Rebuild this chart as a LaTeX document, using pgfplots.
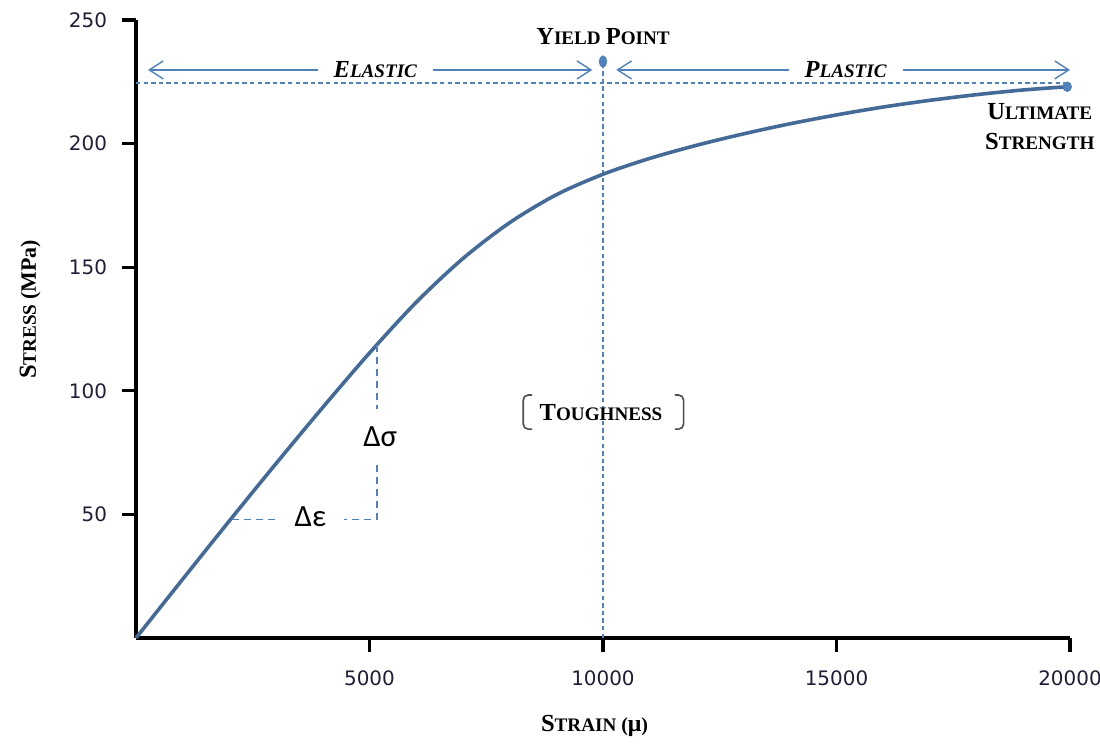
\documentclass[border=0pt]{standalone}
\usepackage{fontspec}
\setmainfont{Liberation Serif}
\newfontfamily\tickfont{DejaVu Sans}
\newfontfamily\calfont{Carlito}
\usepackage{pgfplots}
\pgfplotsset{compat=1.18}
\usetikzlibrary{arrows.meta}
\definecolor{curveblue}{RGB}{68,106,152}
\definecolor{lineblue}{RGB}{79,129,189}
\definecolor{tickcol}{RGB}{30,30,55}
\newcommand{\sct}[2]{{\fontsize{12.3}{14}\selectfont #1}{\fontsize{9.6}{11}\selectfont #2}}
\begin{document}
\begin{tikzpicture}
\begin{axis}[
  scale only axis, width=467bp, height=309bp,
  xmin=0, xmax=20000, ymin=0, ymax=250,
  axis lines=left,
  axis line style={-, line width=2bp, black},
  xtick={5000,10000,15000,20000},
  ytick={50,100,150,200,250},
  scaled x ticks=false,
  tick align=outside,
  major tick length=7bp,
  tick style={line width=1.6bp, black},
  /pgf/number format/assume math mode=true,
  xticklabel style={/pgf/number format/fixed, /pgf/number format/set thousands separator={}, yshift=-6bp},
  ticklabel style={font=\tickfont\fontsize{10}{12}\selectfont, text=tickcol},
  yticklabel style={xshift=-4bp},
  xlabel={\bfseries\sct{S}{TRAIN} ({\fontsize{12}{14}\selectfont μ})},
  ylabel={\bfseries\sct{S}{TRESS} {\fontsize{11}{13}\selectfont (MPa)}},
  every axis x label/.style={at={(rel axis cs:0.491,0)}, yshift=-44bp, anchor=center},
  every axis y label/.style={at={(rel axis cs:0,0.532)}, xshift=-53bp, rotate=90, anchor=center},
  clip=false,
]
\coordinate (ll) at (rel axis cs:0,0);
\coordinate (ur) at (rel axis cs:1,1);
% reference dashed lines
\draw[lineblue, line width=0.7bp, dash pattern=on 2.2bp off 1.6bp] (axis cs:0,224.5) -- (axis cs:19900,224.5);
\draw[lineblue, line width=0.7bp, dash pattern=on 2.2bp off 1.6bp] (axis cs:10000,0) -- (axis cs:10000,232);
% stress-strain curve
\addplot[smooth, color=curveblue, line width=1.8bp] coordinates {
(0,0) (1000,23.8) (2000,47.4) (3000,70.6) (4000,93.3) (5000,115.3) (6000,135.8)
(7000,153.5) (8000,168.0) (9000,179.3) (10000,187.6) (11000,194.0) (12000,199.3)
(13000,203.9) (14000,208.0) (15000,211.6) (16000,214.8) (17000,217.5) (18000,219.8)
(19000,221.7) (19940,223.0)
};
% points
\addplot[only marks, mark=*, mark size=2.6bp, color=lineblue, mark options={xscale=0.72, yscale=1.1}] coordinates {(10000,233.2)};
\addplot[only marks, mark=*, mark size=2.4bp, color=lineblue, mark options={xscale=0.9}] coordinates {(19940,223.0)};
% elastic / plastic arrows
\draw[lineblue, line width=0.7bp, {Straight Barb[length=7bp,width=9bp]}-{Straight Barb[length=7bp,width=9bp]}]
  (axis cs:257,229.8) -- (axis cs:9771,229.8);
\node[fill=white, inner xsep=8bp, inner ysep=1bp, font=\bfseries\itshape] at (axis cs:5125,229.8) {\sct{E}{LASTIC}};
\draw[lineblue, line width=0.7bp, {Straight Barb[length=7bp,width=9bp]}-{Straight Barb[length=7bp,width=9bp]}]
  (axis cs:10284,229.8) -- (axis cs:20000,229.8);
\node[fill=white, inner xsep=8bp, inner ysep=1bp, font=\bfseries\itshape] at (axis cs:15194,229.8) {\sct{P}{LASTIC}};
% labels
\node[font=\bfseries] at (axis cs:10000,243.2) {\sct{Y}{IELD} \sct{P}{OINT}};
\node[font=\bfseries, align=center, inner sep=0pt] at (axis cs:19353,206.7) {\sct{U}{LTIMATE}\\[3bp]\sct{S}{TRENGTH}};
% delta triangle
\draw[lineblue, line width=0.7bp, dash pattern=on 3.5bp off 2.5bp] (axis cs:2060,48) -- (axis cs:5160,48) -- (axis cs:5160,118.5);
\node[fill=white, inner xsep=9bp, inner ysep=1bp, font=\calfont\fontsize{15.5}{18}\selectfont] at (axis cs:3734,49.2) {Δε};
\node[fill=white, inner xsep=1bp, inner ysep=9bp, font=\calfont\fontsize{15.5}{18}\selectfont] at (axis cs:5229,81.3) {Δσ};
% toughness
\node[font=\bfseries] at (axis cs:9958,91.0) {\sct{T}{OUGHNESS}};
\draw[black!70, line width=0.8bp, rounded corners=2.5bp] (axis cs:8480,98.3) -- (axis cs:8292,98.3) -- (axis cs:8292,84.5) -- (axis cs:8480,84.5);
\draw[black!70, line width=0.8bp, rounded corners=2.5bp] (axis cs:11540,98.3) -- (axis cs:11725,98.3) -- (axis cs:11725,84.5) -- (axis cs:11540,84.5);
\end{axis}
\pgfresetboundingbox
\path ([xshift=-68bp,yshift=-56bp]ll) rectangle ([xshift=15bp,yshift=10bp]ur);
\end{tikzpicture}
\end{document}
